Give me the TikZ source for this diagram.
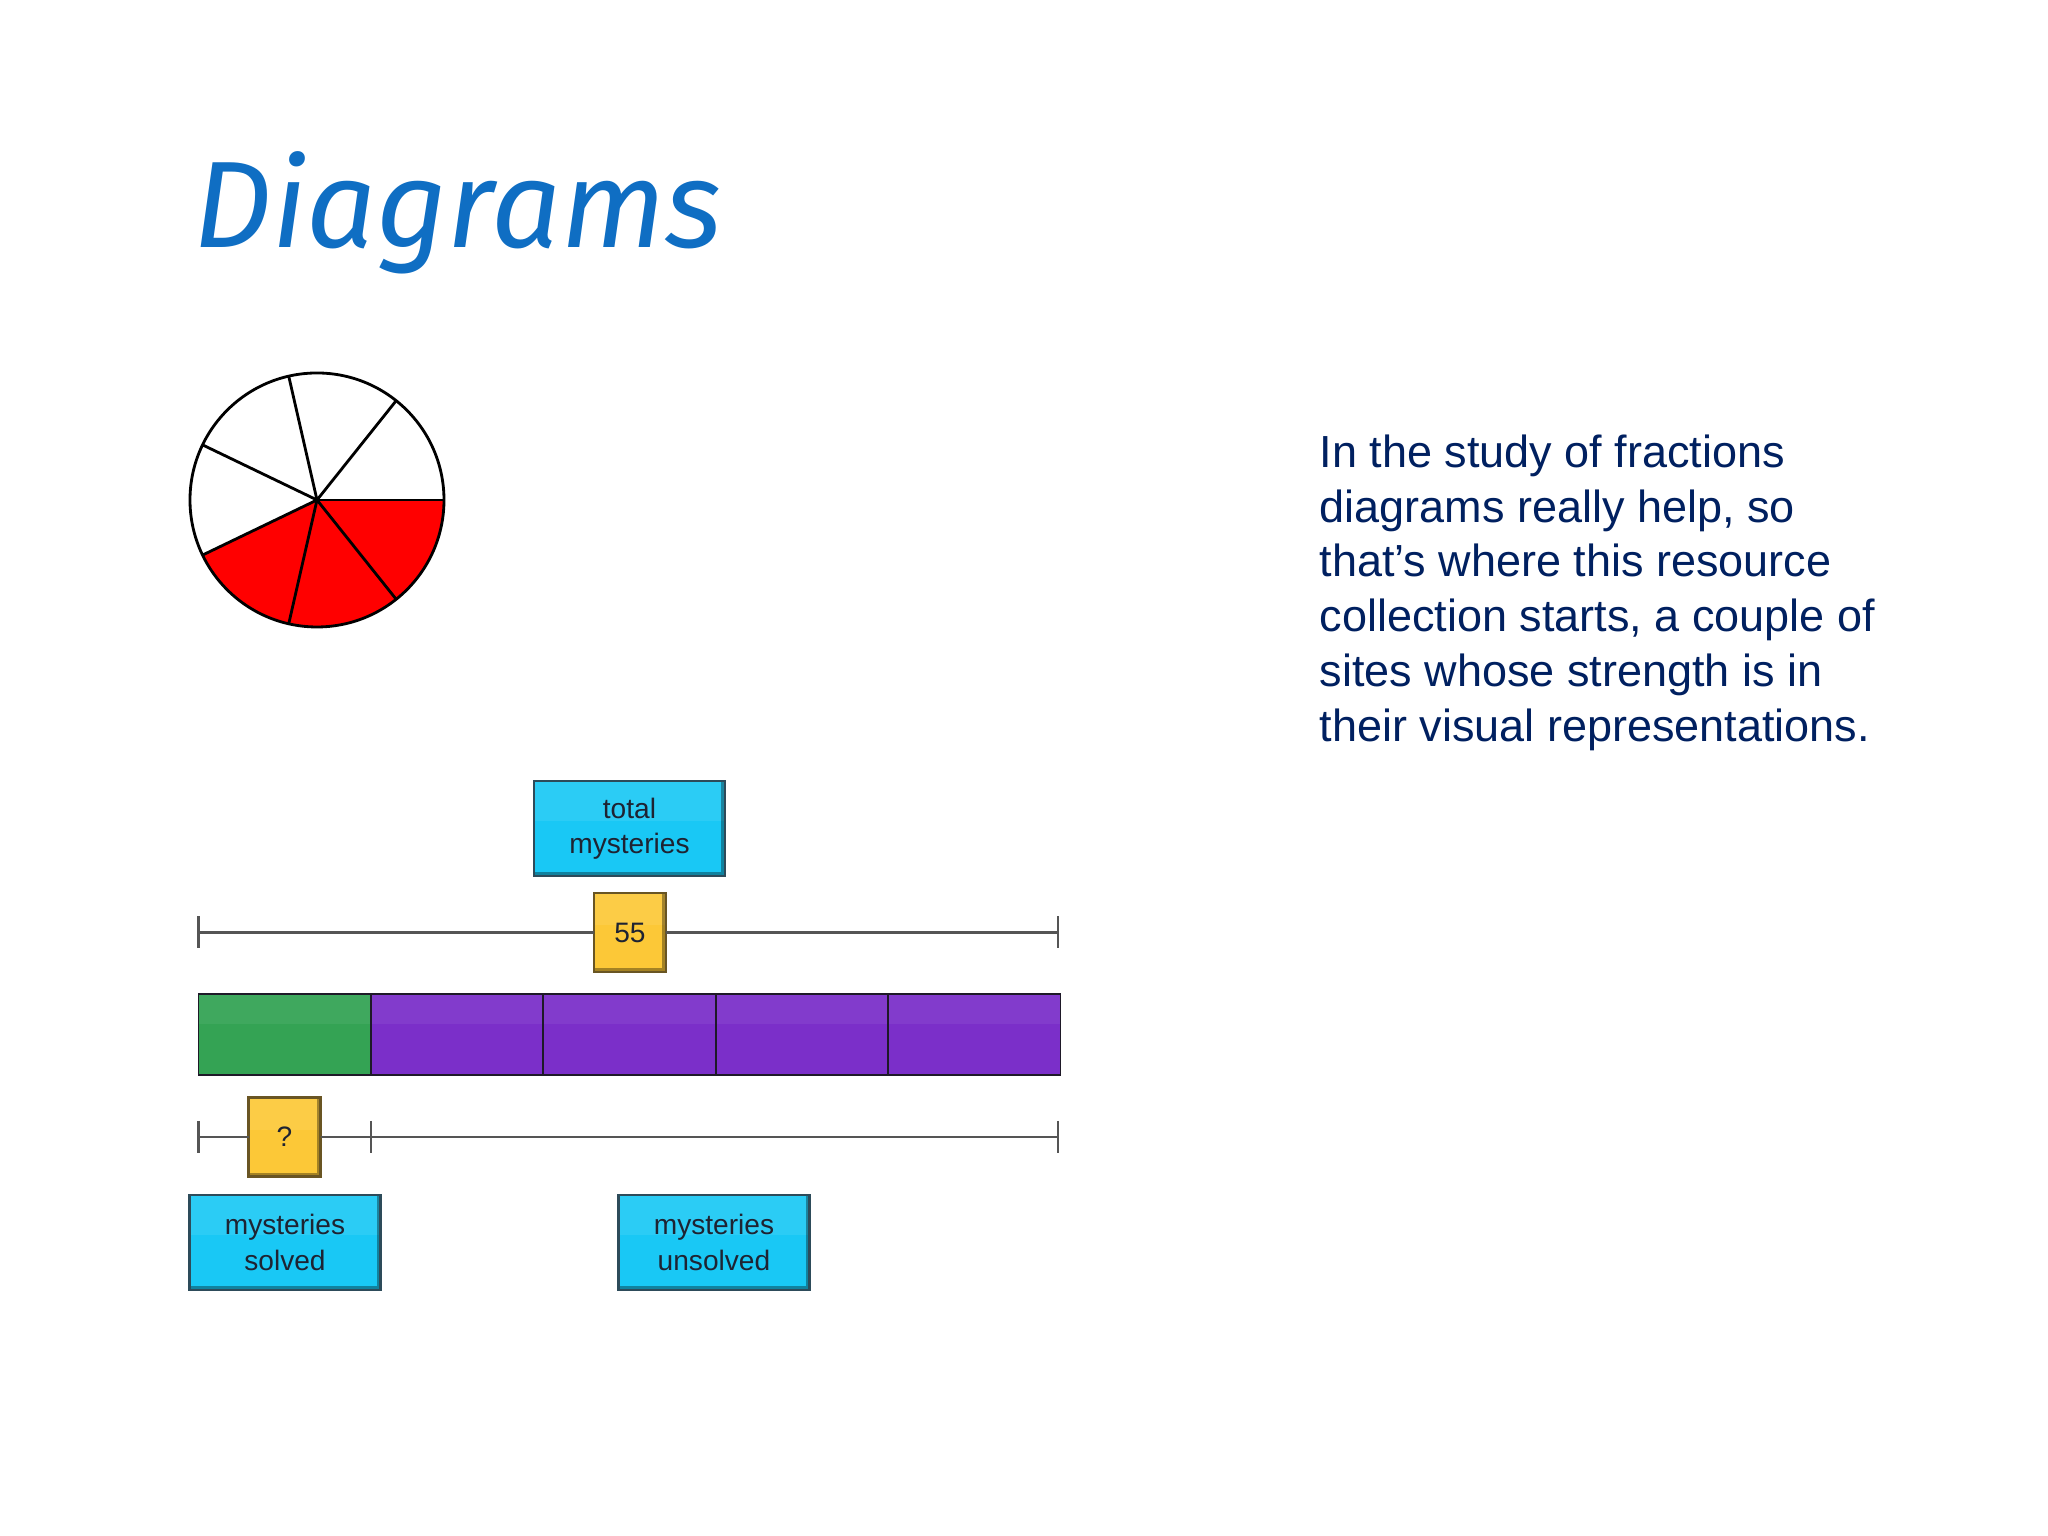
\documentclass[tikz,border=0pt]{standalone}
\usepackage{fontspec}
\setmainfont{Liberation Sans}
\newfontfamily\titlefont{Fira Sans}
\usetikzlibrary{positioning}
\definecolor{diagtitle}{RGB}{15,110,195}
\definecolor{diagnavy}{RGB}{0,32,96}
\definecolor{diagcyan}{RGB}{25,200,245}
\definecolor{diagcyanedge}{RGB}{45,75,90}
\definecolor{diagyellow}{RGB}{252,200,55}
\definecolor{diagyellowedge}{RGB}{105,85,35}
\definecolor{diagline}{RGB}{85,85,85}
\definecolor{diaggreen}{RGB}{52,163,84}
\definecolor{diagpurple}{RGB}{123,47,201}
\definecolor{diagbarline}{RGB}{30,25,40}
\definecolor{diagred}{RGB}{255,0,0}
\definecolor{diagink}{RGB}{30,35,50}

\begin{document}
\begin{tikzpicture}[
  gloss/.style={path picture={
      \fill[white, opacity=0.08] (path picture bounding box.north west) rectangle ([yshift=2pt]path picture bounding box.east);
      \draw[black, opacity=0.35, line width=2pt] (path picture bounding box.south west) -- (path picture bounding box.south east) -- (path picture bounding box.north east);}},
  labelbox/.style={draw=diagcyanedge, fill=diagcyan, line width=0.7pt, gloss, outer sep=0pt,
      minimum width=1.91cm, minimum height=0.95cm, align=center, text=diagink,
      font=\fontsize{8}{10}\selectfont},
  numbox/.style={draw=diagyellowedge, fill=diagyellow, line width=0.7pt, gloss, outer sep=0pt,
      minimum width=0.72cm, minimum height=0.79cm, text=diagink, font=\fontsize{8}{10}\selectfont},
  segment/.style={draw=diagbarline, line width=0.5pt, outer sep=0pt, inner sep=0pt,
      minimum width=1.724cm, minimum height=0.81cm, path picture={
      \fill[white, opacity=0.06] (path picture bounding box.north west) rectangle ([yshift=3pt]path picture bounding box.east);}},
  measure/.style={draw=diagline, line width=0.6pt},
  wedge/.style={draw=black, line width=0.8pt}
]
\fill[white] (0,0) rectangle (20.48,15.36);

\node[anchor=base west, inner sep=0pt, text=diagtitle, font=\titlefont\itshape\fontsize{35}{40}\selectfont] (title) at (1.93,12.88) {Diagrams};

% pie, 3 of 7 shaded
\coordinate (pie) at (3.17,10.36);
\fill[diagred] (pie) -- ++(0:1.27) arc[start angle=0, end angle=-154.29, radius=1.27] -- cycle;
\draw[wedge] (pie) circle[radius=1.27];
\draw[wedge] (pie) -- ++(0:1.27);
\draw[wedge] (pie) -- ++(51.43:1.27);
\draw[wedge] (pie) -- ++(102.86:1.27);
\draw[wedge] (pie) -- ++(154.29:1.27);
\draw[wedge] (pie) -- ++(205.71:1.27);
\draw[wedge] (pie) -- ++(257.14:1.27);
\draw[wedge] (pie) -- ++(308.57:1.27);

\node[anchor=north west, inner sep=0pt, align=left, text=diagnavy, font=\fontsize{12.8}{15.6}\selectfont] (blurb) at (13.19,11.02)
  {In the study of fractions\\diagrams really help, so\\that’s where this resource\\collection starts, a couple of\\sites whose strength is in\\their visual representations.};

% bar model
\node[segment, fill=diaggreen, anchor=west] (s1) at (1.985,5.015) {};
\node[segment, fill=diagpurple, right=0cm of s1] (s2) {};
\node[segment, fill=diagpurple, right=0cm of s2] (s3) {};
\node[segment, fill=diagpurple, right=0cm of s3] (s4) {};
\node[segment, fill=diagpurple, right=0cm of s4] (s5) {};

\node[labelbox] (total) at (6.295,7.075) {total\\mysteries};
\node[numbox] (n55) at (6.30,6.035) {55};
\node[numbox] (nq) at (2.845,3.99) {?};
\node[labelbox] (solved) at (2.85,2.935) {mysteries\\solved};
\node[labelbox] (unsolved) at (7.14,2.935) {mysteries\\unsolved};

\coordinate (tl) at (1.985,6.035);
\coordinate (tr) at (10.58,6.035);
\coordinate (bl) at (1.985,3.99);
\coordinate (bm) at (3.71,3.99);
\coordinate (br) at (10.58,3.99);

\draw[measure] (tl) -- (n55);
\draw[measure] (n55) -- (tr);
\draw[measure] (bl) -- (nq);
\draw[measure] (nq) -- (bm) -- (br);
\draw[measure] ([yshift=1.6mm]tl) -- ([yshift=-1.6mm]tl);
\draw[measure] ([yshift=1.6mm]tr) -- ([yshift=-1.6mm]tr);
\draw[measure] ([yshift=1.6mm]bl) -- ([yshift=-1.6mm]bl);
\draw[measure] ([yshift=1.6mm]bm) -- ([yshift=-1.6mm]bm);
\draw[measure] ([yshift=1.6mm]br) -- ([yshift=-1.6mm]br);
\end{tikzpicture}
\end{document}
